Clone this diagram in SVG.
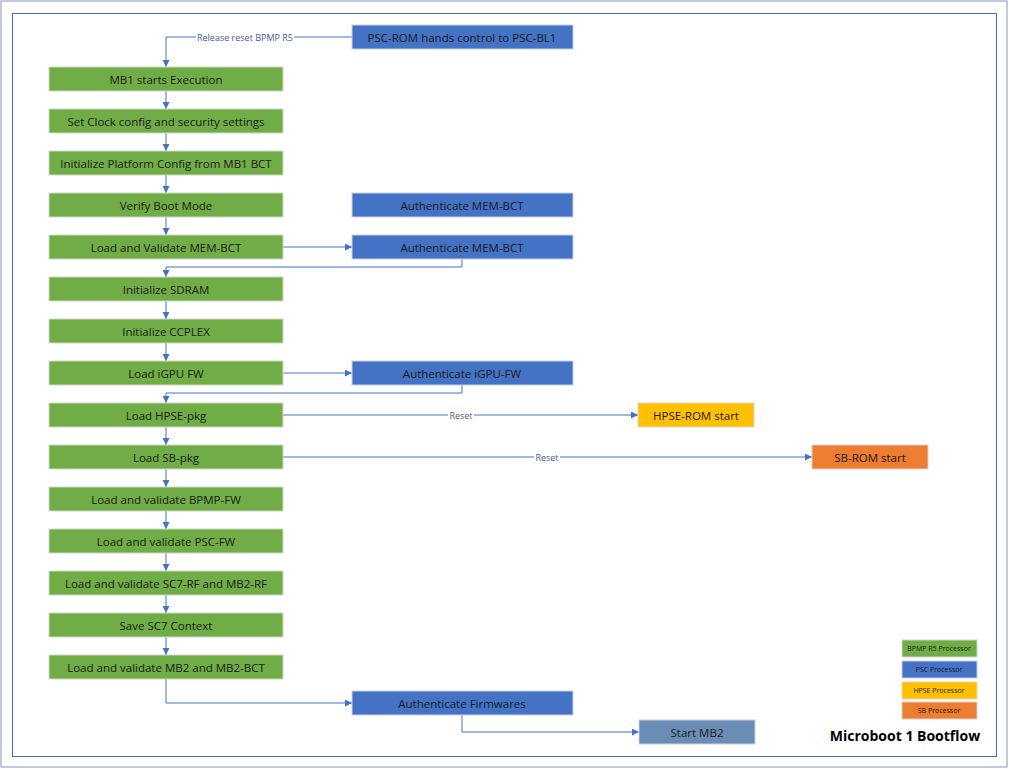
<svg xmlns="http://www.w3.org/2000/svg" width="1009" height="769" viewBox="0 0 1009 769">
<defs>
<marker id="a" viewBox="0 0 10 10" refX="10" refY="5" markerWidth="7" markerHeight="7" orient="auto"><path d="M0,0L10,5L0,10z" fill="#4472c4"/></marker>
<style>
text{font-family:"Open Sans","Liberation Sans",sans-serif;font-size:11.5px;fill:#1a1a1a;text-anchor:middle;dominant-baseline:central}
.g{fill:#70ad47;stroke:#d0d7c8;stroke-width:1}
.b{fill:#4472c4;stroke:#c8d0e0;stroke-width:1}
.y{fill:#ffc000;stroke:#e0d8c0}
.o{fill:#ed7d31;stroke:#e0d0c8}
.s{fill:#6a8db5;stroke:#c8d0e0}
.c{fill:none;stroke:#4472c4;stroke-width:1}
.l{font-size:9px;fill:#4a5a8a}
.lg{font-size:7px}
</style>
</defs>
<rect x="1" y="1" width="1006" height="766" fill="#fff" stroke="#8096c0"/>
<rect x="12.5" y="13.5" width="984" height="743" fill="#fff" stroke="#4a6ab0"/>
<g id="connectors">
<path class="c" d="M352,37H166V67" marker-end="url(#a)"/>
<rect x="196" y="31" width="98" height="12" fill="#fff"/>
<text class="l" x="245" y="37">Release reset BPMP R5</text>
<path class="c" d="M166,91V109" marker-end="url(#a)"/>
<path class="c" d="M166,133V151" marker-end="url(#a)"/>
<path class="c" d="M166,175V193" marker-end="url(#a)"/>
<path class="c" d="M166,217V235" marker-end="url(#a)"/>
<path class="c" d="M283,247H352" marker-end="url(#a)"/>
<path class="c" d="M462,259V267H166V277" marker-end="url(#a)"/>
<path class="c" d="M166,301V319" marker-end="url(#a)"/>
<path class="c" d="M166,343V361" marker-end="url(#a)"/>
<path class="c" d="M283,373H352" marker-end="url(#a)"/>
<path class="c" d="M462,385V393H166V403" marker-end="url(#a)"/>
<path class="c" d="M283,415H638" marker-end="url(#a)"/>
<rect x="448" y="409" width="26" height="12" fill="#fff"/>
<text class="l" x="461" y="415">Reset</text>
<path class="c" d="M166,427V445" marker-end="url(#a)"/>
<path class="c" d="M283,457H812" marker-end="url(#a)"/>
<rect x="534" y="451" width="26" height="12" fill="#fff"/>
<text class="l" x="547" y="457">Reset</text>
<path class="c" d="M166,469V487" marker-end="url(#a)"/>
<path class="c" d="M166,511V529" marker-end="url(#a)"/>
<path class="c" d="M166,553V571" marker-end="url(#a)"/>
<path class="c" d="M166,595V613" marker-end="url(#a)"/>
<path class="c" d="M166,637V655" marker-end="url(#a)"/>
<path class="c" d="M166,679V703H352" marker-end="url(#a)"/>
<path class="c" d="M462,715V732H639" marker-end="url(#a)"/>
</g>
<g id="n0"><rect class="b" x="352" y="25" width="221" height="24"/><text x="462" y="37">PSC-ROM hands control to PSC-BL1</text></g>
<g id="n1"><rect class="g" x="49" y="67" width="234" height="24"/><text x="166" y="79">MB1 starts Execution</text></g>
<g id="n2"><rect class="g" x="49" y="109" width="234" height="24"/><text x="166" y="121">Set Clock config and security settings</text></g>
<g id="n3"><rect class="g" x="49" y="151" width="234" height="24"/><text x="166" y="163">Initialize Platform Config from MB1 BCT</text></g>
<g id="n4"><rect class="g" x="49" y="193" width="234" height="24"/><text x="166" y="205">Verify Boot Mode</text></g>
<g id="n4b"><rect class="b" x="352" y="193" width="221" height="24"/><text x="462" y="205">Authenticate MEM-BCT</text></g>
<g id="n5"><rect class="g" x="49" y="235" width="234" height="24"/><text x="166" y="247">Load and Validate MEM-BCT</text></g>
<g id="n5b"><rect class="b" x="352" y="235" width="221" height="24"/><text x="462" y="247">Authenticate MEM-BCT</text></g>
<g id="n6"><rect class="g" x="49" y="277" width="234" height="24"/><text x="166" y="289">Initialize SDRAM</text></g>
<g id="n7"><rect class="g" x="49" y="319" width="234" height="24"/><text x="166" y="331">Initialize CCPLEX</text></g>
<g id="n8"><rect class="g" x="49" y="361" width="234" height="24"/><text x="166" y="373">Load iGPU FW</text></g>
<g id="n8b"><rect class="b" x="352" y="361" width="221" height="24"/><text x="462" y="373">Authenticate iGPU-FW</text></g>
<g id="n9"><rect class="g" x="49" y="403" width="234" height="24"/><text x="166" y="415">Load HPSE-pkg</text></g>
<g id="n9b"><rect class="y" x="638" y="403" width="116" height="24"/><text x="696" y="415">HPSE-ROM start</text></g>
<g id="n10"><rect class="g" x="49" y="445" width="234" height="24"/><text x="166" y="457">Load SB-pkg</text></g>
<g id="n10b"><rect class="o" x="812" y="445" width="116" height="24"/><text x="870" y="457">SB-ROM start</text></g>
<g id="n11"><rect class="g" x="49" y="487" width="234" height="24"/><text x="166" y="499">Load and validate BPMP-FW</text></g>
<g id="n12"><rect class="g" x="49" y="529" width="234" height="24"/><text x="166" y="541">Load and validate PSC-FW</text></g>
<g id="n13"><rect class="g" x="49" y="571" width="234" height="24"/><text x="166" y="583">Load and validate SC7-RF and MB2-RF</text></g>
<g id="n14"><rect class="g" x="49" y="613" width="234" height="24"/><text x="166" y="625">Save SC7 Context</text></g>
<g id="n15"><rect class="g" x="49" y="655" width="234" height="24"/><text x="166" y="667">Load and validate MB2 and MB2-BCT</text></g>
<g id="n16"><rect class="b" x="352" y="691" width="221" height="24"/><text x="462" y="703">Authenticate Firmwares</text></g>
<g id="n17"><rect class="s" x="639" y="720" width="116" height="24"/><text x="697" y="732">Start MB2</text></g>
<g id="legend">
<rect class="g" x="902" y="640" width="75" height="17"/><text class="lg" x="939" y="648">BPMP R5 Processor</text>
<rect class="b" x="902" y="661" width="75" height="17"/><text class="lg" x="939" y="669">PSC Processor</text>
<rect class="y" x="902" y="682" width="75" height="17"/><text class="lg" x="939" y="690">HPSE Processor</text>
<rect class="o" x="902" y="702" width="75" height="17"/><text class="lg" x="939" y="710">SB Processor</text>
</g>
<text x="905" y="735" style="font-weight:bold;font-size:14px;fill:#000">Microboot 1 Bootflow</text>
</svg>
